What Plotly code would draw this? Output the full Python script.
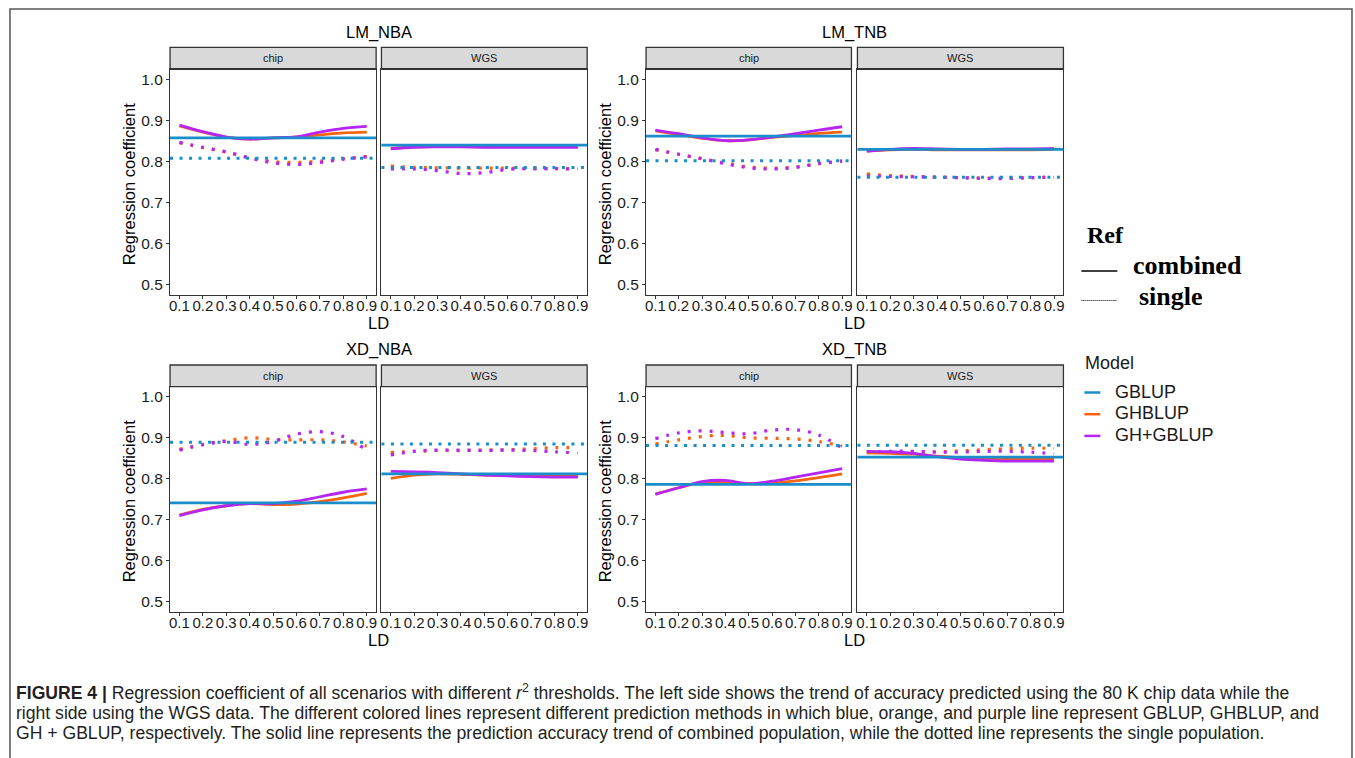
import plotly.graph_objects as go

W, H = 1355, 758

# ---------------- data ----------------
LD = [0.1, 0.2, 0.3, 0.4, 0.5, 0.6, 0.7, 0.8, 0.9]
LD_LABELS = ["0.1", "0.2", "0.3", "0.4", "0.5", "0.6", "0.7", "0.8", "0.9"]
Y_TICKS = [0.5, 0.6, 0.7, 0.8, 0.9, 1.0]
Y_LABELS = ["0.5", "0.6", "0.7", "0.8", "0.9", "1.0"]

PANELS = ["LM_NBA", "LM_TNB", "XD_NBA", "XD_TNB"]
FACETS = ["chip", "WGS"]
MODELS = ["GBLUP", "GHBLUP", "GH+GBLUP"]

# GBLUP does not depend on LD (one value per panel)
GBLUP_COMBINED_CHIP = [0.858, 0.862, 0.741, 0.786]
GBLUP_COMBINED_WGS = [0.840, 0.830, 0.812, 0.853]
GBLUP_SINGLE_CHIP = [0.808, 0.802, 0.889, 0.881]
GBLUP_SINGLE_WGS = [0.786, 0.762, 0.885, 0.882]

LM_NBA_CHIP_GHBLUP_COMB = [0.887, 0.872, 0.860, 0.855, 0.858, 0.860, 0.865, 0.870, 0.872]
LM_NBA_CHIP_GHG_COMB = [0.889, 0.873, 0.860, 0.855, 0.858, 0.860, 0.872, 0.881, 0.886]
LM_NBA_CHIP_GHBLUP_SING = [0.846, 0.834, 0.823, 0.809, 0.800, 0.798, 0.801, 0.807, 0.812]
LM_NBA_CHIP_GHG_SING = [0.847, 0.835, 0.824, 0.809, 0.797, 0.793, 0.798, 0.806, 0.812]

LM_NBA_WGS_GHBLUP_COMB = [0.832, 0.836, 0.837, 0.837, 0.836, 0.836, 0.836, 0.836, 0.836]
LM_NBA_WGS_GHG_COMB = [0.831, 0.835, 0.836, 0.836, 0.835, 0.835, 0.835, 0.835, 0.835]
LM_NBA_WGS_GHBLUP_SING = [0.789, 0.786, 0.785, 0.784, 0.784, 0.784, 0.783, 0.783, 0.783]
LM_NBA_WGS_GHG_SING = [0.782, 0.782, 0.778, 0.771, 0.773, 0.781, 0.783, 0.783, 0.782]

LM_TNB_CHIP_GHBLUP_COMB = [0.875, 0.866, 0.857, 0.851, 0.853, 0.859, 0.864, 0.869, 0.872]
LM_TNB_CHIP_GHG_COMB = [0.877, 0.868, 0.858, 0.851, 0.853, 0.860, 0.868, 0.877, 0.885]
LM_TNB_CHIP_GHBLUP_SING = [0.829, 0.818, 0.807, 0.797, 0.787, 0.784, 0.787, 0.795, 0.800]
LM_TNB_CHIP_GHG_SING = [0.830, 0.818, 0.807, 0.795, 0.785, 0.782, 0.786, 0.795, 0.802]

LM_TNB_WGS_GHBLUP_COMB = [0.826, 0.829, 0.830, 0.829, 0.829, 0.829, 0.829, 0.829, 0.830]
LM_TNB_WGS_GHG_COMB = [0.825, 0.830, 0.832, 0.831, 0.830, 0.830, 0.831, 0.831, 0.832]
LM_TNB_WGS_GHBLUP_SING = [0.770, 0.766, 0.764, 0.762, 0.761, 0.760, 0.760, 0.761, 0.762]
LM_TNB_WGS_GHG_SING = [0.765, 0.764, 0.763, 0.762, 0.761, 0.759, 0.759, 0.761, 0.762]

XD_NBA_CHIP_GHBLUP_COMB = [0.711, 0.725, 0.734, 0.739, 0.737, 0.738, 0.744, 0.753, 0.764]
XD_NBA_CHIP_GHG_COMB = [0.710, 0.724, 0.734, 0.739, 0.739, 0.745, 0.756, 0.767, 0.775]
XD_NBA_CHIP_GHBLUP_SING = [0.872, 0.884, 0.893, 0.900, 0.896, 0.895, 0.895, 0.890, 0.880]
XD_NBA_CHIP_GHG_SING = [0.870, 0.883, 0.891, 0.884, 0.891, 0.909, 0.915, 0.903, 0.870]

XD_NBA_WGS_GHBLUP_COMB = [0.801, 0.809, 0.812, 0.811, 0.809, 0.808, 0.807, 0.806, 0.806]
XD_NBA_WGS_GHG_COMB = [0.818, 0.817, 0.815, 0.812, 0.809, 0.807, 0.805, 0.804, 0.804]
XD_NBA_WGS_GHBLUP_SING = [0.864, 0.867, 0.869, 0.869, 0.870, 0.871, 0.873, 0.876, 0.876]
XD_NBA_WGS_GHG_SING = [0.858, 0.867, 0.870, 0.870, 0.869, 0.870, 0.869, 0.866, 0.863]

XD_TNB_CHIP_GHBLUP_COMB = [0.763, 0.778, 0.791, 0.793, 0.788, 0.789, 0.795, 0.803, 0.812]
XD_TNB_CHIP_GHG_COMB = [0.762, 0.778, 0.793, 0.796, 0.788, 0.794, 0.804, 0.8145, 0.825]
XD_TNB_CHIP_GHBLUP_SING = [0.885, 0.895, 0.903, 0.906, 0.900, 0.899, 0.897, 0.891, 0.880]
XD_TNB_CHIP_GHG_SING = [0.898, 0.912, 0.917, 0.913, 0.910, 0.919, 0.920, 0.907, 0.875]

XD_TNB_WGS_GHBLUP_COMB = [0.863, 0.862, 0.860, 0.855, 0.851, 0.849, 0.848, 0.848, 0.848]
XD_TNB_WGS_GHG_COMB = [0.867, 0.866, 0.862, 0.854, 0.848, 0.845, 0.843, 0.843, 0.843]
XD_TNB_WGS_GHBLUP_SING = [0.866, 0.866, 0.866, 0.866, 0.868, 0.871, 0.873, 0.875, 0.874]
XD_TNB_WGS_GHG_SING = [0.864, 0.867, 0.867, 0.865, 0.865, 0.867, 0.867, 0.865, 0.861]

SERIES = {
    ("LM_NBA", "chip"): (LM_NBA_CHIP_GHBLUP_COMB, LM_NBA_CHIP_GHG_COMB, LM_NBA_CHIP_GHBLUP_SING, LM_NBA_CHIP_GHG_SING),
    ("LM_NBA", "WGS"): (LM_NBA_WGS_GHBLUP_COMB, LM_NBA_WGS_GHG_COMB, LM_NBA_WGS_GHBLUP_SING, LM_NBA_WGS_GHG_SING),
    ("LM_TNB", "chip"): (LM_TNB_CHIP_GHBLUP_COMB, LM_TNB_CHIP_GHG_COMB, LM_TNB_CHIP_GHBLUP_SING, LM_TNB_CHIP_GHG_SING),
    ("LM_TNB", "WGS"): (LM_TNB_WGS_GHBLUP_COMB, LM_TNB_WGS_GHG_COMB, LM_TNB_WGS_GHBLUP_SING, LM_TNB_WGS_GHG_SING),
    ("XD_NBA", "chip"): (XD_NBA_CHIP_GHBLUP_COMB, XD_NBA_CHIP_GHG_COMB, XD_NBA_CHIP_GHBLUP_SING, XD_NBA_CHIP_GHG_SING),
    ("XD_NBA", "WGS"): (XD_NBA_WGS_GHBLUP_COMB, XD_NBA_WGS_GHG_COMB, XD_NBA_WGS_GHBLUP_SING, XD_NBA_WGS_GHG_SING),
    ("XD_TNB", "chip"): (XD_TNB_CHIP_GHBLUP_COMB, XD_TNB_CHIP_GHG_COMB, XD_TNB_CHIP_GHBLUP_SING, XD_TNB_CHIP_GHG_SING),
    ("XD_TNB", "WGS"): (XD_TNB_WGS_GHBLUP_COMB, XD_TNB_WGS_GHG_COMB, XD_TNB_WGS_GHBLUP_SING, XD_TNB_WGS_GHG_SING),
}
GBLUP_COMB = {"chip": GBLUP_COMBINED_CHIP, "WGS": GBLUP_COMBINED_WGS}
GBLUP_SING = {"chip": GBLUP_SINGLE_CHIP, "WGS": GBLUP_SINGLE_WGS}

# ---------------- style ----------------
COLORS = {"GBLUP": "#1B8DCB", "GHBLUP": "#F7640F", "GH+GBLUP": "#B526F4"}
SANS = "Liberation Sans, Arial, sans-serif"
SERIF = "Liberation Serif, Times New Roman, serif"
DARK = "#333333"
TXT = "#1a1a1a"

# pixel geometry of the panels
COLS_X = [(169.3, 375.7, 381.0, 587.0), (646.0, 851.7, 857.7, 1064.0)]
ROWS_Y = [(47.3, 69.3, 295.0), (365.0, 386.7, 611.7)]


def fx(px):
    return px / W


def fy(py):
    return 1 - py / H


fig = go.Figure()
shapes = []
annotations = []
layout_axes = {}

for p, panel in enumerate(PANELS):
    row, col = divmod(p, 2)
    st, sb, pb = ROWS_Y[row]
    cx = COLS_X[col]
    for f, facet in enumerate(FACETS):
        n = p * 2 + f + 1
        xs = "" if n == 1 else str(n)
        x0px, x1px = cx[2 * f], cx[2 * f + 1]
        ghb_c, ghg_c, ghb_s, ghg_s = SERIES[(panel, facet)]

        # single population (dotted)
        for vals, model in ((ghb_s, "GHBLUP"), (ghg_s, "GH+GBLUP")):
            fig.add_trace(go.Scatter(
                x=LD, y=vals, mode="lines", xaxis="x" + xs, yaxis="y" + xs,
                line=dict(color=COLORS[model], width=3.2, dash="3px,8px", shape="spline", smoothing=1.0),
                showlegend=False, hoverinfo="skip"))
        # combined population (solid)
        for vals, model in ((ghb_c, "GHBLUP"), (ghg_c, "GH+GBLUP")):
            fig.add_trace(go.Scatter(
                x=LD, y=vals, mode="lines", xaxis="x" + xs, yaxis="y" + xs,
                line=dict(color=COLORS[model], width=2.8, shape="spline", smoothing=1.0),
                showlegend=False, hoverinfo="skip"))

        # GBLUP: constant across LD -> horizontal lines across the panel
        shapes.append(dict(type="line", xref="x" + xs + " domain", yref="y" + xs,
                           x0=0, x1=1, y0=GBLUP_SING[facet][p], y1=GBLUP_SING[facet][p],
                           line=dict(color=COLORS["GBLUP"], width=3, dash="3px,6.5px"), layer="above"))
        shapes.append(dict(type="line", xref="x" + xs + " domain", yref="y" + xs,
                           x0=0, x1=1, y0=GBLUP_COMB[facet][p], y1=GBLUP_COMB[facet][p],
                           line=dict(color=COLORS["GBLUP"], width=2.8), layer="above"))

        layout_axes["xaxis" + xs] = dict(
            domain=[fx(x0px), fx(x1px)], anchor="y" + xs, range=[0.06, 0.94],
            tickmode="array", tickvals=LD, ticktext=LD_LABELS, tickangle=0,
            ticks="outside", ticklen=3, tickwidth=1.1, tickcolor=DARK,
            ticklabelstandoff=-6,
            showline=True, mirror=True, linecolor=DARK, linewidth=1.3,
            showgrid=False, zeroline=False, fixedrange=True,
            tickfont=dict(family=SANS, size=15, color=TXT))
        layout_axes["yaxis" + xs] = dict(
            domain=[fy(pb), fy(sb)], anchor="x" + xs, range=[0.475, 1.025],
            tickmode="array", tickvals=Y_TICKS, ticktext=Y_LABELS,
            ticks="outside" if f == 0 else "", ticklen=3, tickwidth=1.1, tickcolor=DARK,
            showticklabels=(f == 0),
            showline=True, mirror=True, linecolor=DARK, linewidth=1.3,
            showgrid=False, zeroline=False, fixedrange=True,
            tickfont=dict(family=SANS, size=15.5, color=TXT))

        # facet strip
        shapes.append(dict(type="rect", xref="paper", yref="paper",
                           x0=fx(x0px), x1=fx(x1px), y0=fy(sb), y1=fy(st),
                           fillcolor="#D9D9D9", line=dict(color=DARK, width=1.3), layer="below"))
        annotations.append(dict(text=facet, xref="paper", yref="paper",
                                x=fx((x0px + x1px) / 2), y=fy((st + sb) / 2),
                                xanchor="center", yanchor="middle", showarrow=False,
                                font=dict(family=SANS, size=11, color=TXT)))

    # panel title, x title, y title
    midx = (cx[0] + cx[3]) / 2
    annotations.append(dict(text=panel, xref="paper", yref="paper", x=fx(midx), y=fy(st - 15),
                            xanchor="center", yanchor="middle", showarrow=False,
                            font=dict(family=SANS, size=16.5, color="#000")))
    annotations.append(dict(text="LD", xref="paper", yref="paper", x=fx(midx), y=fy(pb + 28),
                            xanchor="center", yanchor="middle", showarrow=False,
                            font=dict(family=SANS, size=16.5, color="#000")))
    annotations.append(dict(text="Regression coefficient", xref="paper", yref="paper",
                            x=fx(cx[0] - 41), y=fy((sb + pb) / 2 + 2), textangle=-90,
                            xanchor="center", yanchor="middle", showarrow=False,
                            font=dict(family=SANS, size=16.5, color="#000")))

# ---------------- legends ----------------
annotations.append(dict(text="<b>Ref</b>", xref="paper", yref="paper", x=fx(1086), y=fy(235),
                        xanchor="left", yanchor="middle", showarrow=False,
                        font=dict(family=SERIF, size=24, color="#000")))
annotations.append(dict(text="<b>combined</b>", xref="paper", yref="paper", x=fx(1132), y=fy(265),
                        xanchor="left", yanchor="middle", showarrow=False,
                        font=dict(family=SERIF, size=26, color="#000")))
annotations.append(dict(text="<b>single</b>", xref="paper", yref="paper", x=fx(1138), y=fy(297),
                        xanchor="left", yanchor="middle", showarrow=False,
                        font=dict(family=SERIF, size=26, color="#000")))
shapes.append(dict(type="line", xref="paper", yref="paper", x0=fx(1082), x1=fx(1118),
                   y0=fy(271), y1=fy(271), line=dict(color="#000", width=1.5)))
shapes.append(dict(type="line", xref="paper", yref="paper", x0=fx(1082), x1=fx(1118),
                   y0=fy(300.5), y1=fy(300.5), line=dict(color="#000", width=1, dash="1px,1px")))

annotations.append(dict(text="Model", xref="paper", yref="paper", x=fx(1084), y=fy(363),
                        xanchor="left", yanchor="middle", showarrow=False,
                        font=dict(family=SANS, size=18, color=TXT)))
for i, model in enumerate(MODELS):
    yc = 391.5 + i * 21.7
    shapes.append(dict(type="line", xref="paper", yref="paper", x0=fx(1085), x1=fx(1101),
                       y0=fy(yc + 1), y1=fy(yc + 1), line=dict(color=COLORS[model], width=2.5)))
    annotations.append(dict(text=model, xref="paper", yref="paper", x=fx(1114), y=fy(yc),
                            xanchor="left", yanchor="middle", showarrow=False,
                            font=dict(family=SANS, size=18, color=TXT)))

# ---------------- caption ----------------
CAPTION = [
    "<b>FIGURE 4 |</b> Regression coefficient of all scenarios with different <i>r</i><sup>2</sup> thresholds. "
    "The left side shows the trend of accuracy predicted using the 80 K chip data while the",
    "right side using the WGS data. The different colored lines represent different prediction methods in which "
    "blue, orange, and purple line represent GBLUP, GHBLUP, and",
    "GH + GBLUP, respectively. The solid line represents the prediction accuracy trend of combined population, "
    "while the dotted line represents the single population.",
]
for i, line in enumerate(CAPTION):
    annotations.append(dict(text=line, xref="paper", yref="paper", x=fx(13), y=fy(692 + i * 20.7),
                            xanchor="left", yanchor="middle", showarrow=False,
                            font=dict(family=SANS, size=17.6, color="#231F20")))

# outer frame
shapes.append(dict(type="rect", xref="paper", yref="paper", x0=fx(9), x1=fx(1353),
                   y0=fy(790), y1=fy(9), line=dict(color="#555555", width=1.5), layer="below"))

fig.update_layout(
    width=W, height=H, margin=dict(l=0, r=0, t=0, b=0),
    paper_bgcolor="white", plot_bgcolor="white",
    shapes=shapes, annotations=annotations, showlegend=False,
    **layout_axes)

fig.write_html("out.html", config={"displayModeBar": False},
               post_script="document.body.style.margin='0';document.body.style.overflow='hidden';")
